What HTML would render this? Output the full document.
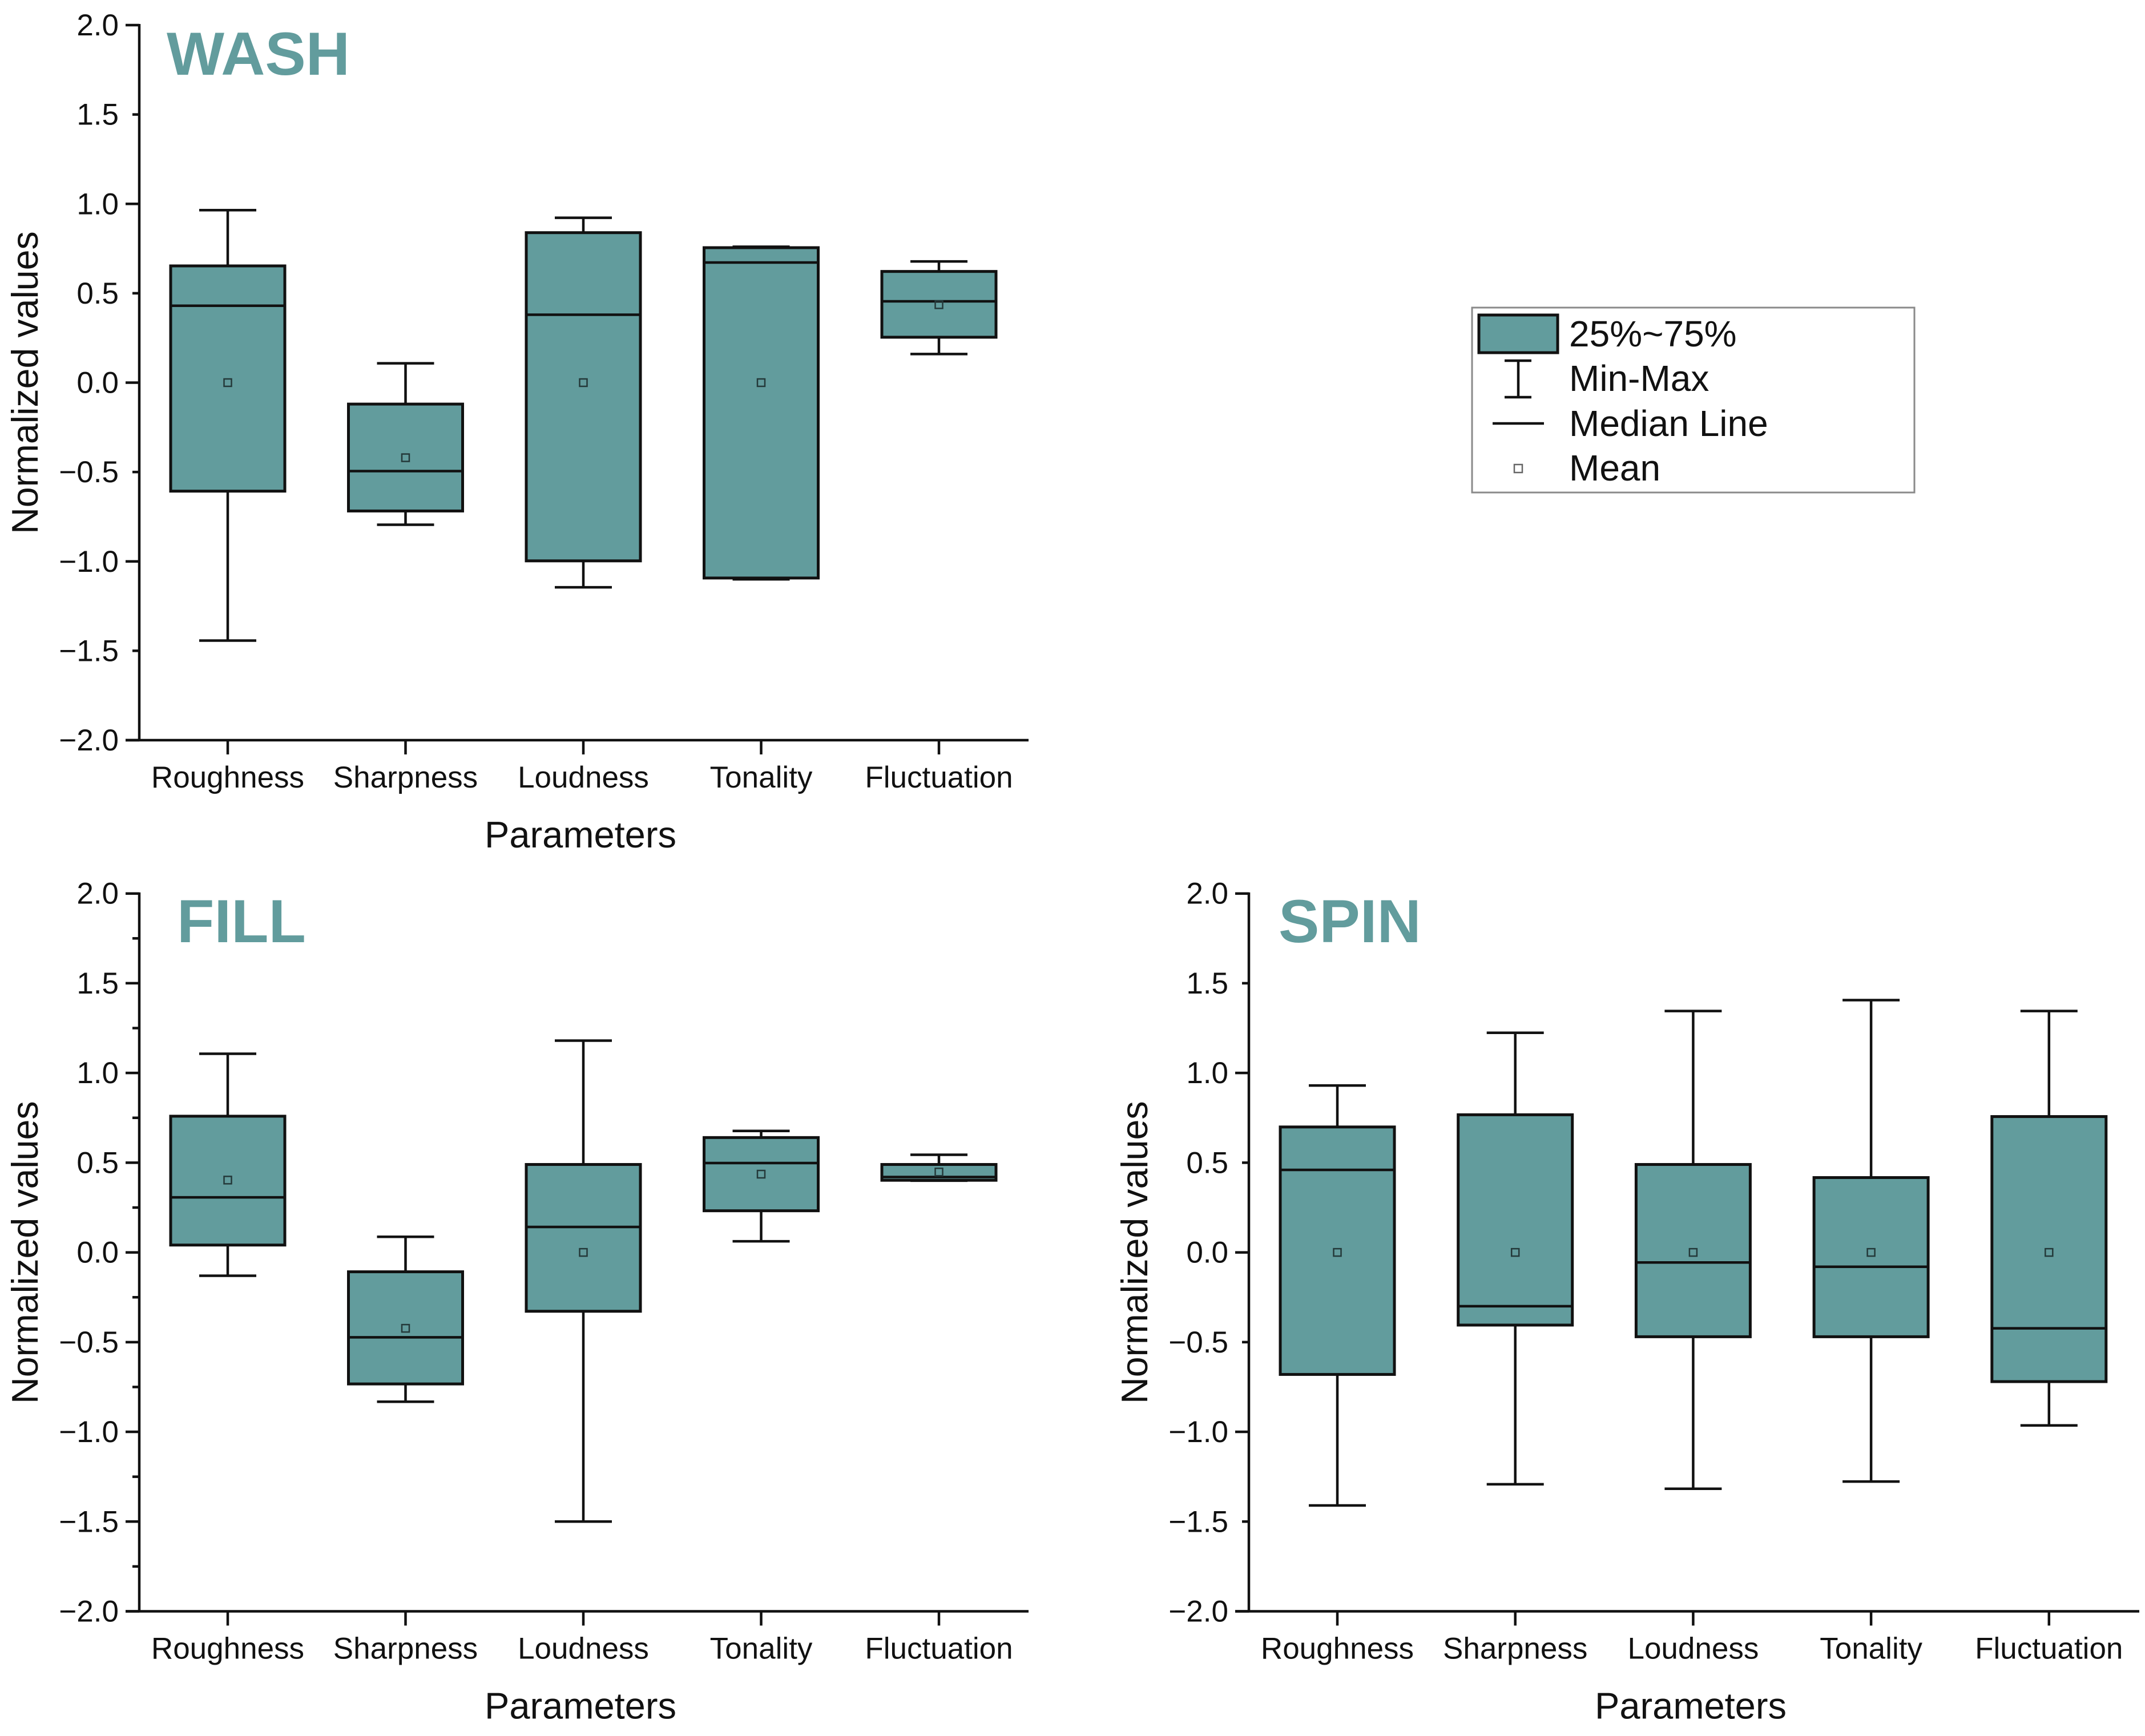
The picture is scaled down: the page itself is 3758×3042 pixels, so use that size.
<!DOCTYPE html>
<html lang="en">
<head>
<meta charset="utf-8">
<title>Normalized psychoacoustic parameters: Wash, Fill, Spin</title>
<style>
html,body{margin:0;padding:0;background:#fff;}
body{width:3758px;height:3042px;overflow:hidden;}
svg{display:block;}
text{font-family:"Liberation Sans",Arial,sans-serif;fill:#111;}
</style>
</head>
<body>
<svg id="chart" xmlns="http://www.w3.org/2000/svg" width="3758" height="3042" viewBox="0 0 3758 3042">
  <rect x="0" y="0" width="3758" height="3042" fill="#ffffff"/>
  <g id="plots"></g>
  <g>
    <rect x="2579" y="539" width="775" height="324" fill="#fff" stroke="#8a8a8a" stroke-width="3"/>
    <rect x="2591" y="552" width="138" height="66" fill="#629C9D" stroke="#111" stroke-width="5"/>
    <text x="2749" y="607" font-size="64">25%~75%</text>
    <path d="M2636 632H2683M2660 632V696M2636 696H2683" fill="none" stroke="#111" stroke-width="4.5"/>
    <text x="2749" y="685" font-size="64">Min-Max</text>
    <line x1="2615" y1="742" x2="2705" y2="742" stroke="#111" stroke-width="4.5"/>
    <text x="2749" y="764" font-size="64">Median Line</text>
    <rect x="2653" y="814" width="14" height="14" fill="#fff" stroke="#666" stroke-width="2.5"/>
    <text x="2749" y="842" font-size="64">Mean</text>
  </g>
</svg>
<script>
var categories = ["Roughness", "Sharpness", "Loudness", "Tonality", "Fluctuation"];
var yTickValues = [-2, -1.5, -1, -0.5, 0, 0.5, 1, 1.5, 2];
var yTickLabels = ["\u22122.0", "\u22121.5", "\u22121.0", "\u22120.5", "0.0", "0.5", "1.0", "1.5", "2.0"];

var washMax    = [0.965, 0.108, 0.922, 0.760, 0.678];
var washQ3     = [0.653, -0.120, 0.839, 0.755, 0.622];
var washMedian = [0.430, -0.495, 0.380, 0.672, 0.455];
var washMean   = [0.000, -0.420, 0.000, 0.000, 0.436];
var washQ1     = [-0.607, -0.718, -0.997, -1.093, 0.254];
var washMin    = [-1.443, -0.795, -1.145, -1.100, 0.160];

var fillMax    = [1.107, 0.087, 1.180, 0.677, 0.544];
var fillQ3     = [0.759, -0.108, 0.490, 0.640, 0.490];
var fillMedian = [0.307, -0.473, 0.142, 0.498, 0.420];
var fillMean   = [0.403, -0.423, 0.000, 0.436, 0.448];
var fillQ1     = [0.041, -0.733, -0.328, 0.232, 0.402];
var fillMin    = [-0.130, -0.832, -1.500, 0.062, 0.400];

var spinMax    = [0.930, 1.224, 1.345, 1.406, 1.345];
var spinQ3     = [0.699, 0.767, 0.490, 0.417, 0.757];
var spinMedian = [0.460, -0.300, -0.056, -0.080, -0.423];
var spinMean   = [0.000, 0.000, 0.000, 0.000, 0.000];
var spinQ1     = [-0.680, -0.405, -0.470, -0.470, -0.720];
var spinMin    = [-1.410, -1.292, -1.317, -1.277, -0.964];

var NS = "http://www.w3.org/2000/svg";
var TEAL = "#629C9D";
var INK = "#111111";
var root = document.getElementById("plots");

function mk(parent, tag, attrs, txt) {
  var el = document.createElementNS(NS, tag);
  for (var k in attrs) { el.setAttribute(k, attrs[k]); }
  if (txt !== undefined) { el.textContent = txt; }
  parent.appendChild(el);
  return el;
}

function drawPanel(slug, title, titleX, titleBaseline, axisLeft, axisRight, yTop, yBottom, firstCenter, step, quarterTicks, maxV, q3V, medV, meanV, q1V, minV) {
  var yScale = function (v) { return yBottom - (v + 2) / 4 * (yBottom - yTop); };
  var xScale = function (i) { return firstCenter + i * step; };
  var el;

  var g = mk(root, "g", {});
  
  

  el = mk(g, "text", { x: titleX, y: titleBaseline, "font-size": 107, "font-weight": "bold", style: "fill:" + TEAL }, title);
  
  

  // y ticks: long on labelled or integer values, short in between
  var minorStep = quarterTicks ? 0.25 : 0.5;
  var majorEvery = quarterTicks ? 0.5 : 1;
  for (var t = -2; t <= 2.001; t += minorStep) {
    var isMajor = Math.abs(t / majorEvery - Math.round(t / majorEvery)) < 1e-6;
    el = mk(g, "line", { x1: axisLeft - (isMajor ? 24 : 12), x2: axisLeft, y1: yScale(t), y2: yScale(t), stroke: INK, "stroke-width": 4.5 });
    
    
  }
  yTickValues.forEach(function (v, i) {
    var lab = mk(g, "text", { x: axisLeft - 36, y: yScale(v) + 18, "font-size": 53, "text-anchor": "end" }, yTickLabels[i]);
    
    
  });

  categories.forEach(function (name, i) {
    var cx = xScale(i);
    var tick = mk(g, "line", { x1: cx, x2: cx, y1: yBottom, y2: yBottom + 25, stroke: INK, "stroke-width": 4.5 });
    
    
    var lab = mk(g, "text", { x: cx, y: yBottom + 83, "font-size": 53, "text-anchor": "middle" }, name);
    
    

    var box = mk(g, "g", {});
    
    
    var whisker = mk(box, "path", {
      d: "M" + (cx - 50) + " " + yScale(maxV[i]) + "H" + (cx + 50) +
         "M" + cx + " " + yScale(maxV[i]) + "V" + yScale(minV[i]) +
         "M" + (cx - 50) + " " + yScale(minV[i]) + "H" + (cx + 50),
      fill: "none", stroke: INK, "stroke-width": 4.5
    });
    
    
    var rect = mk(box, "rect", { x: cx - 100, y: yScale(q3V[i]), width: 200, height: yScale(q1V[i]) - yScale(q3V[i]), fill: TEAL, stroke: INK, "stroke-width": 5 });
    
    
    var med = mk(box, "line", { x1: cx - 100, x2: cx + 100, y1: yScale(medV[i]), y2: yScale(medV[i]), stroke: INK, "stroke-width": 4.5 });
    
    
    var mean = mk(box, "rect", { x: cx - 6.5, y: yScale(meanV[i]) - 6.5, width: 13, height: 13, fill: "none", stroke: "#24393a", "stroke-width": 2.5 });
    
    
  });

  el = mk(g, "line", { x1: axisLeft, x2: axisLeft, y1: yTop - 2, y2: yBottom + 2, stroke: INK, "stroke-width": 4.5 });
  
  
  el = mk(g, "line", { x1: axisLeft - 24, x2: axisRight, y1: yBottom, y2: yBottom, stroke: INK, "stroke-width": 4.5 });
  
  

  el = mk(g, "text", { x: (axisLeft + axisRight) / 2 - 6, y: yBottom + 188, "font-size": 65, "text-anchor": "middle" }, "Parameters");
  
  
  var ty = (yTop + yBottom) / 2;
  var tx = axisLeft - 178;
  el = mk(g, "text", { x: tx, y: ty, "font-size": 64.5, "text-anchor": "middle", transform: "rotate(-90 " + tx + " " + ty + ")" }, "Normalized values");
  
  
}

drawPanel("wash", "WASH", 292, 131, 244, 1802, 44, 1297, 399, 311.5, false, washMax, washQ3, washMedian, washMean, washQ1, washMin);
drawPanel("fill", "FILL", 310, 1651, 244, 1802, 1565.7, 2823.5, 399, 311.5, true, fillMax, fillQ3, fillMedian, fillMean, fillQ1, fillMin);
drawPanel("spin", "SPIN", 2240, 1651, 2188, 3748, 1565.7, 2823.5, 2343, 311.7, false, spinMax, spinQ3, spinMedian, spinMean, spinQ1, spinMin);
</script>
</body>
</html>
